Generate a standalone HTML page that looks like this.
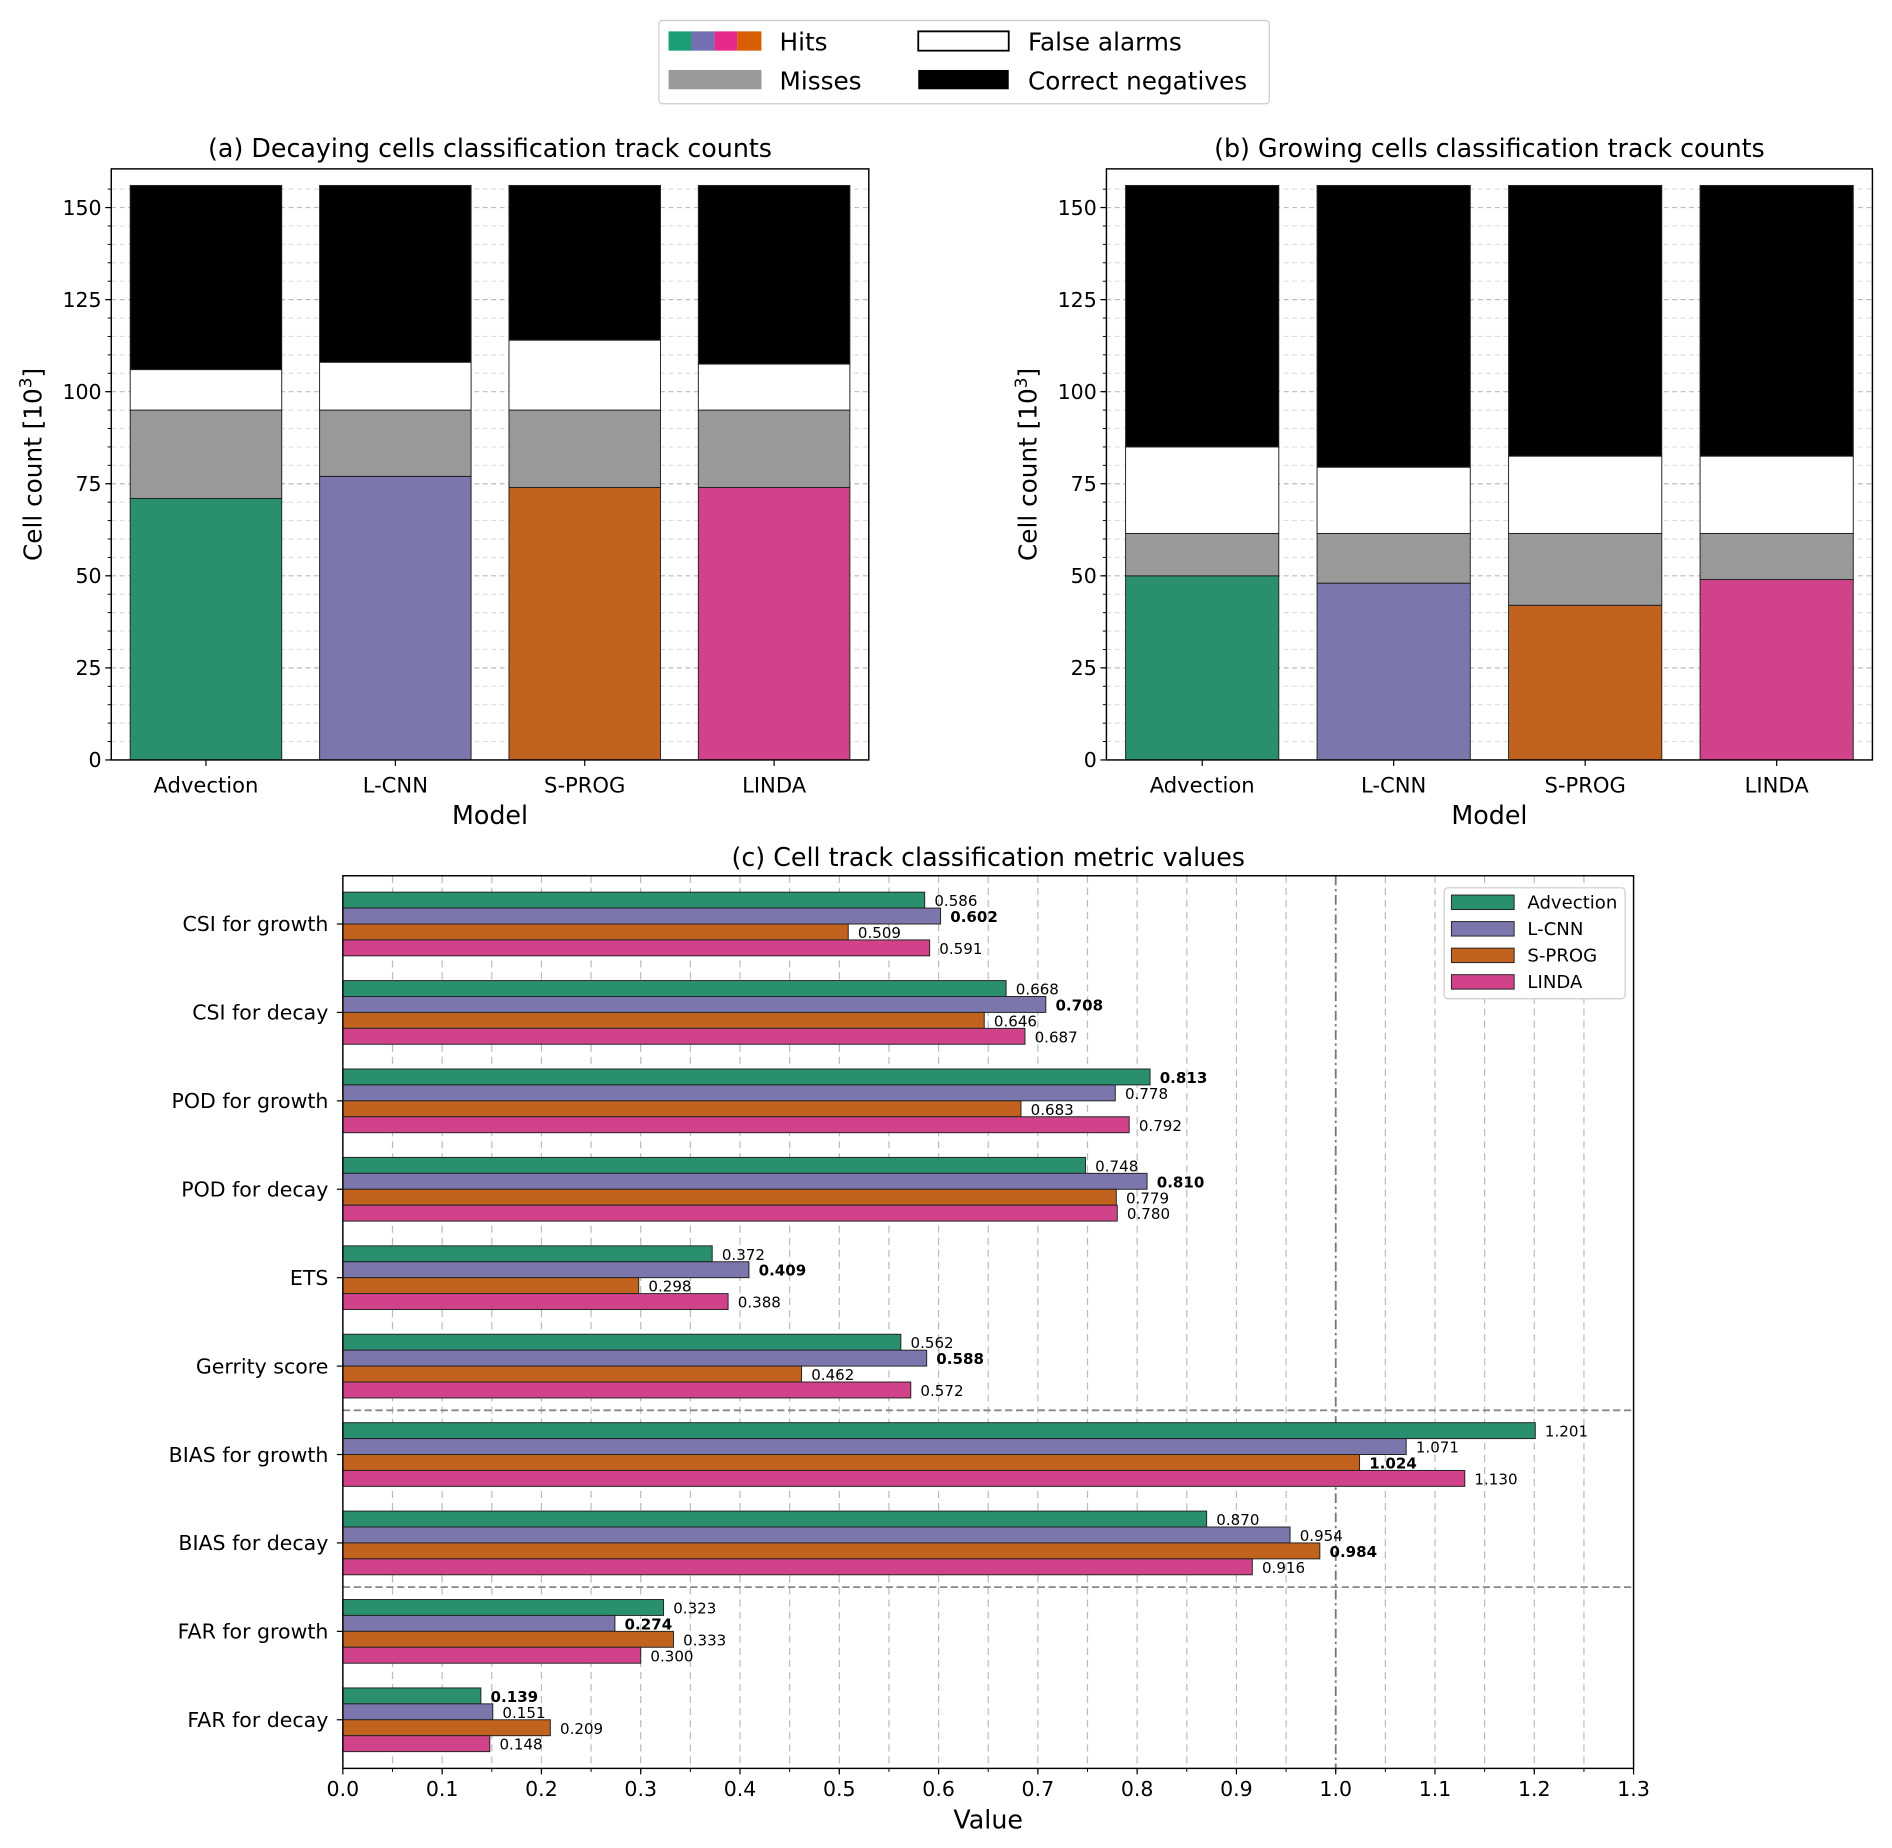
<!DOCTYPE html>
<html><head><meta charset="utf-8"><style>
html,body{margin:0;padding:0;background:#fff;}
svg{display:block;font-family:"DejaVu Sans","Liberation Sans",sans-serif;}
</style></head><body>
<svg id="fig" width="1892" height="1848" viewBox="0 0 1568 1532" xmlns="http://www.w3.org/2000/svg">
<g id="legend-top">
<rect x="546" y="17" width="506" height="69" rx="3" fill="#fff" stroke="#ccc"/>
<rect x="554" y="26" width="19" height="16" fill="#1b9e77"/><rect x="573" y="26" width="19" height="16" fill="#7570b3"/><rect x="592" y="26" width="19" height="16" fill="#e7298a"/><rect x="611" y="26" width="20" height="16" fill="#d95f02"/>
<text x="646" y="42" font-size="20.5">Hits</text>
<rect x="554" y="58" width="77" height="16" fill="#999"/>
<text x="646" y="74" font-size="20.5">Misses</text>
<rect x="761" y="26" width="75" height="16" fill="#fff" stroke="#000" stroke-width="1.5"/>
<text x="852" y="42" font-size="20.5">False alarms</text>
<rect x="761" y="58" width="75" height="16" fill="#000"/>
<text x="852" y="74" font-size="20.5">Correct negatives</text>
</g>
<g id="pa"></g><g id="pb"></g><g id="pc"></g>
</svg>
<script>
const models = ["Advection","L-CNN","S-PROG","LINDA"];
const barColors = ["#2a8f6f","#7b76ab","#c1621f","#d0438a"];
const totalCount = 156;
const decayHits = [71, 77, 74, 74];
const decayMisses = [24, 18, 21, 21];
const decayFalseAlarms = [11, 13, 19, 12.5];
const growHits = [50, 48, 42, 49];
const growMisses = [11.5, 13.5, 19.5, 12.5];
const growFalseAlarms = [23.5, 18, 21, 21];
const countTicks = [0,25,50,75,100,125,150];

const metrics = ["CSI for growth","CSI for decay","POD for growth","POD for decay","ETS","Gerrity score","BIAS for growth","BIAS for decay","FAR for growth","FAR for decay"];
const advVals = [0.586,0.668,0.813,0.748,0.372,0.562,1.201,0.870,0.323,0.139];
const lcnnVals = [0.602,0.708,0.778,0.810,0.409,0.588,1.071,0.954,0.274,0.151];
const sprogVals = [0.509,0.646,0.683,0.779,0.298,0.462,1.024,0.984,0.333,0.209];
const lindaVals = [0.591,0.687,0.792,0.780,0.388,0.572,1.130,0.916,0.300,0.148];
const valueTicks = [0,0.1,0.2,0.3,0.4,0.5,0.6,0.7,0.8,0.9,1.0,1.1,1.2,1.3];

const NS="http://www.w3.org/2000/svg";
function el(parent,tag,attrs,text){const e=document.createElementNS(NS,tag);for(const k in attrs)e.setAttribute(k,attrs[k]);if(text!==undefined)e.textContent=text;parent.appendChild(e);return e;}

function countPanel(gid,L,R,title,hits,misses,fas){
  const g=document.getElementById(gid);
  const T=140,B=630;
  const y=v=>B-(v/160.5)*(B-T);
  const x=i=>L+(i+0.5)/4*(R-L);
  const bw=(R-L)/4*0.8;
  for(let v=0;v<=155;v+=5){const ln=el(g,'line',{x1:L,x2:R,y1:y(v),y2:y(v),stroke:v%25===0?'#bbb':'#ddd','stroke-dasharray':'4,3','stroke-width':1});
    
    el(g,'line',{x1:L-3,x2:L,y1:y(v),y2:y(v),stroke:'#000','stroke-width':0.8});}
  for(let i=0;i<4;i++){
    const cx=x(i),h=hits[i],m=misses[i],f=fas[i];
    const segs=[[0,h,barColors[i],'hits'],[h,h+m,'#999','misses'],[h+m,h+m+f,'#fff','false-alarms'],[h+m+f,totalCount,'#000','correct-negatives']];
    segs.forEach(s=>{const r=el(g,'rect',{x:cx-bw/2,y:y(s[1]),width:bw,height:y(s[0])-y(s[1]),fill:s[2],stroke:'#222','stroke-width':0.8});
      
      });
    el(g,'line',{x1:cx,x2:cx,y1:B,y2:B+5,stroke:'#000'});
    const t=el(g,'text',{x:cx,y:657,'font-size':17.5,'text-anchor':'middle'},models[i]);
    
  }
  countTicks.forEach(v=>{el(g,'line',{x1:L-5,x2:L,y1:y(v),y2:y(v),stroke:'#000'});
    const t=el(g,'text',{x:L-8,y:y(v)+6,'font-size':17,'text-anchor':'end'},v);
    });
  el(g,'rect',{x:L,y:T,width:R-L,height:B-T,fill:'none',stroke:'#000','stroke-width':1.2});
  const tt=el(g,'text',{x:(L+R)/2,y:130,'font-size':21,'text-anchor':'middle'},title);
  
  const xl=el(g,'text',{x:(L+R)/2,y:683,'font-size':21,'text-anchor':'middle'},'Model');
  
  const yl=el(g,'text',{x:0,y:0,'font-size':20.5,'text-anchor':'middle',transform:`translate(${L-58},${(T+B)/2}) rotate(-90)`});
  
  yl.appendChild(document.createTextNode('Cell count [10'));
  el(yl,'tspan',{'font-size':14,dy:-8},'3');
  el(yl,'tspan',{dy:8},']');
}
countPanel('pa',92,720,'(a) Decaying cells classification track counts',decayHits,decayMisses,decayFalseAlarms);
countPanel('pb',917,1552,'(b) Growing cells classification track counts',growHits,growMisses,growFalseAlarms);

(function(){
  const g=document.getElementById('pc');
  const L=284,R=1354,T=726,B=1466;
  const x=v=>L+v/1.3*(R-L);
  const step=73.3, y0=766;
  const yc=i=>y0+i*step;
  const bh=13.2;
  for(let k=1;k<26;k++){const v=k*0.05;
    const ln=el(g,'line',{x1:x(v),x2:x(v),y1:T,y2:B,stroke:Math.abs(v-1)<1e-9?'#777':'#bbb','stroke-dasharray':Math.abs(v-1)<1e-9?'8,3,2,3':'6,4','stroke-width':Math.abs(v-1)<1e-9?1.5:1});
    
    el(g,'line',{x1:x(v),x2:x(v),y1:B,y2:B+3,stroke:'#000','stroke-width':0.8});}
  [5.5,7.5].forEach(p=>{const ln=el(g,'line',{x1:L,x2:R,y1:yc(p),y2:yc(p),stroke:'#888','stroke-dasharray':'6,3','stroke-width':1.5});
    });
  const series=[advVals,lcnnVals,sprogVals,lindaVals];
  metrics.forEach((m,i)=>{
    const vals=series.map(s=>s[i]);
    let best=0;
    vals.forEach((v,j)=>{const sc=m.startsWith('BIAS')?-Math.abs(v-1):m.startsWith('FAR')?-v:v;
      const sb=m.startsWith('BIAS')?-Math.abs(vals[best]-1):m.startsWith('FAR')?-vals[best]:vals[best]; if(sc>sb)best=j;});
    series.forEach((s,j)=>{
      const cy=yc(i)+(j-1.5)*bh;
      const r=el(g,'rect',{x:L,y:cy-bh/2,width:x(s[i])-L,height:bh,fill:barColors[j],stroke:'#222','stroke-width':0.8});
      
      
      const t=el(g,'text',{x:x(s[i])+8,y:cy+5,'font-size':12.5,'font-weight':j===best?'bold':'normal'},s[i].toFixed(3));
      
    });
    el(g,'line',{x1:L-5,x2:L,y1:yc(i),y2:yc(i),stroke:'#000'});
    const t=el(g,'text',{x:L-12,y:yc(i)+6,'font-size':17,'text-anchor':'end'},m);
    
  });
  valueTicks.forEach(v=>{el(g,'line',{x1:x(v),x2:x(v),y1:B,y2:B+5,stroke:'#000'});
    const t=el(g,'text',{x:x(v),y:B+23,'font-size':17,'text-anchor':'middle'},v.toFixed(1));
    });
  el(g,'rect',{x:L,y:T,width:R-L,height:B-T,fill:'none',stroke:'#000','stroke-width':1.2});
  const tt=el(g,'text',{x:(L+R)/2,y:718,'font-size':21,'text-anchor':'middle'},'(c) Cell track classification metric values');
  
  const xl=el(g,'text',{x:(L+R)/2,y:1516,'font-size':21,'text-anchor':'middle'},'Value');
  
  const lg=el(g,'g',{});
  
  el(lg,'rect',{x:1197,y:736,width:150,height:92,rx:3,fill:'#fff',stroke:'#ccc'});
  models.forEach((m,j)=>{const yy=748+j*22;
    el(lg,'rect',{x:1203,y:yy-6,width:52,height:12,fill:barColors[j],stroke:'#222','stroke-width':0.8});
    const t=el(lg,'text',{x:1266,y:yy+5,'font-size':15},m);
    });
})();
</script>
</body></html>
